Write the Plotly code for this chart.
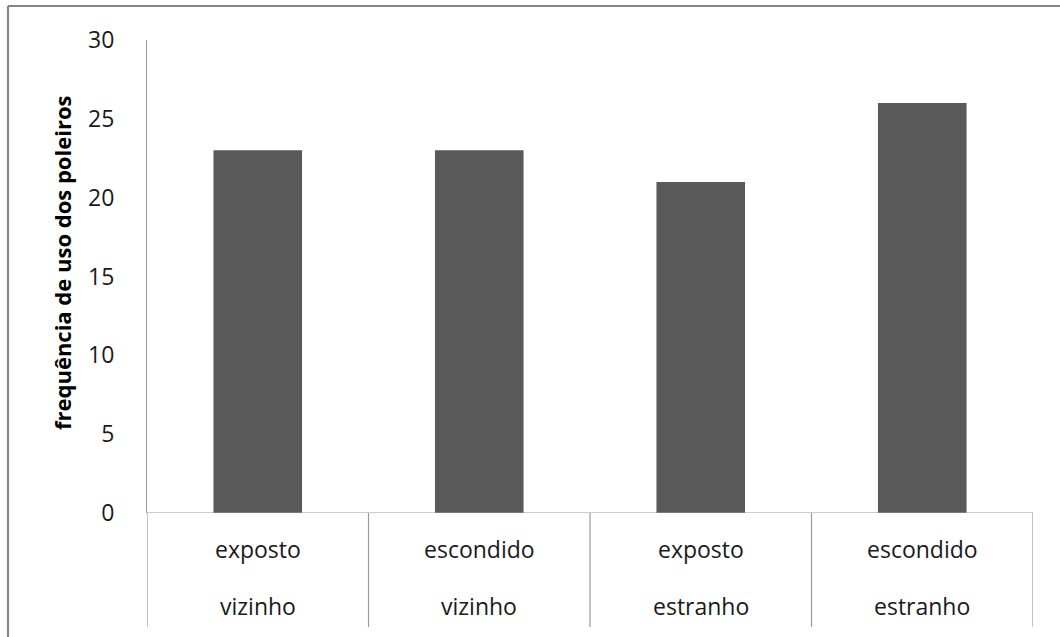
import plotly.graph_objects as go

# Perch-use frequency by perch type and intruder type
perch_type = ["exposto", "escondido", "exposto", "escondido"]
intruder_type = ["vizinho", "vizinho", "estranho", "estranho"]
frequency = [23, 23, 21, 26]

y_ticks = [0, 5, 10, 15, 20, 25, 30]
y_title = "frequência de uso dos poleiros"

W, H = 1060, 637
L, R, T, B = 147, 27, 40, 124
plot_w = W - L - R
plot_h = H - T - B

positions = list(range(len(frequency)))

fig = go.Figure()
fig.add_trace(go.Bar(
    x=positions,
    y=frequency,
    width=0.4,
    marker=dict(color="#595959", line=dict(width=0)),
    hoverinfo="skip",
))

axis_color = "#9a9a9a"
label_font = dict(family="Open Sans, sans-serif", size=23, color="#1a1a1a")

# Two-level category labels below the axis
annotations = []
for i, (p, s) in enumerate(zip(perch_type, intruder_type)):
    annotations.append(dict(x=i, y=-36 / plot_h, xref="x", yref="paper",
                            text=p, showarrow=False, yanchor="middle",
                            font=label_font))
    annotations.append(dict(x=i, y=-93 / plot_h, xref="x", yref="paper",
                            text=s, showarrow=False, yanchor="middle",
                            font=label_font))

# Vertical axis title
annotations.append(dict(x=(62 - L) / plot_w, y=(H - B - 263) / plot_h,
                        xref="paper", yref="paper", text="<b>" + y_title + "</b>",
                        textangle=-90, showarrow=False,
                        xanchor="center", yanchor="middle",
                        font=dict(family="Open Sans, sans-serif", size=22,
                                  color="#000000")))

shapes = []
# Category dividers extending below the axis
div_bottom = -(627 - (H - B)) / plot_h
for k in range(len(frequency) + 1):
    xv = k - 0.5
    shapes.append(dict(type="line", xref="x", yref="paper",
                       x0=xv, x1=xv, y0=0, y1=div_bottom,
                       line=dict(color=axis_color, width=1.2)))
# Category axis line at zero
shapes.append(dict(type="line", xref="x", yref="y",
                   x0=-0.5, x1=len(frequency) - 0.5, y0=0, y1=0,
                   line=dict(color=axis_color, width=1.2)))

# Chart frame (top and left edges)
frame_color = "#858585"
fx0 = (8 - L) / plot_w
fx1 = (W + 5 - L) / plot_w
fy_top = (H - B - 6) / plot_h
fy_bot = -(H + 5 - (H - B)) / plot_h
shapes.append(dict(type="line", xref="paper", yref="paper",
                   x0=fx0, x1=fx1, y0=fy_top, y1=fy_top,
                   line=dict(color=frame_color, width=2.2)))
shapes.append(dict(type="line", xref="paper", yref="paper",
                   x0=fx0, x1=fx0, y0=fy_top, y1=fy_bot,
                   line=dict(color=frame_color, width=2.2)))

fig.update_layout(
    width=W, height=H,
    margin=dict(l=L, r=R, t=T, b=B, pad=0),
    paper_bgcolor="white",
    plot_bgcolor="white",
    showlegend=False,
    bargap=0.6,
    annotations=annotations,
    shapes=shapes,
    xaxis=dict(range=[-0.5, len(frequency) - 0.5], showticklabels=False,
               showgrid=False, zeroline=False, showline=False, ticks=""),
    yaxis=dict(range=[0, 30], tickvals=y_ticks,
               showgrid=False, zeroline=False,
               showline=True, linecolor=axis_color, linewidth=1.2,
               ticks="", ticklabelstandoff=27,
               tickfont=dict(family="Open Sans, sans-serif", size=23,
                             color="#1a1a1a")),
)

fig.write_html("out.html", config={"displayModeBar": False})
